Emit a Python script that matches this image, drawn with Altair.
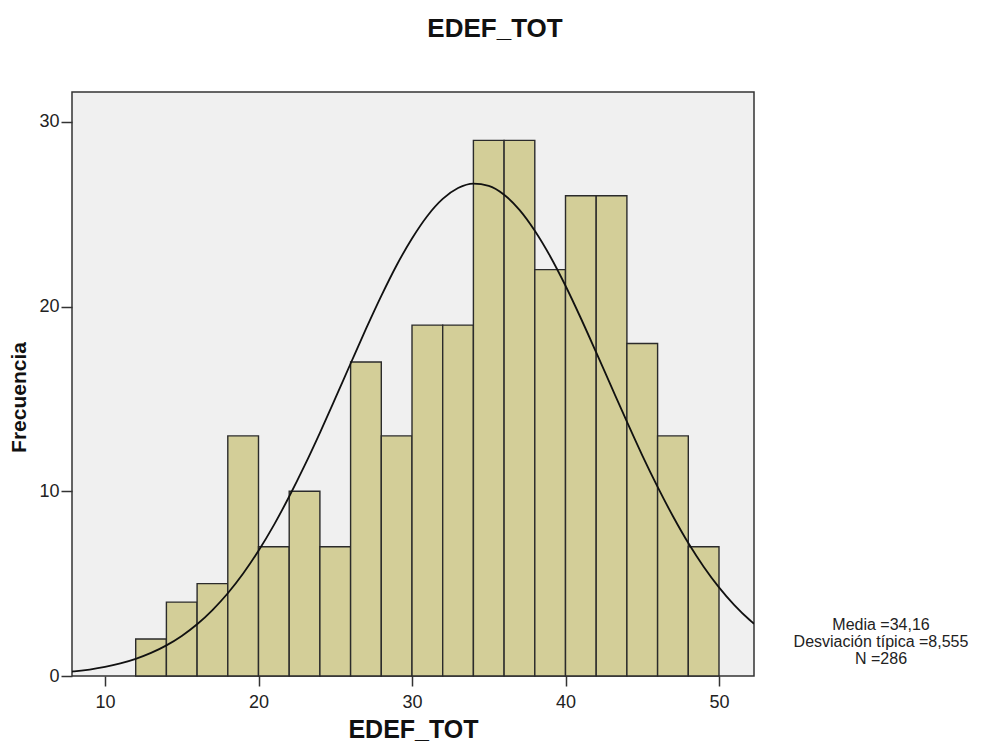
import altair as alt
import pandas as pd

# Histogram bins (EDEF_TOT) and frequencies
bin_start = [12, 14, 16, 18, 20, 22, 24, 26, 28, 30, 32, 34, 36, 38, 40, 42, 44, 46, 48]
bin_end = [14, 16, 18, 20, 22, 24, 26, 28, 30, 32, 34, 36, 38, 40, 42, 44, 46, 48, 50]
counts = [2, 4, 5, 13, 7, 10, 7, 17, 13, 19, 19, 29, 29, 22, 26, 26, 18, 13, 7]

# Normal curve points
curve_x = [7.85, 8, 9, 10, 11, 12, 13, 14, 15, 16, 17, 18, 19, 20, 21, 22, 23, 24, 25, 26,
           27, 28, 29, 30, 31, 32, 33, 34, 35, 36, 37, 38, 39, 40, 41, 42, 43, 44, 45, 46,
           47, 48, 49, 50, 51, 52, 52.28]
curve_y = [0.24, 0.25, 0.35, 0.49, 0.68, 0.93, 1.25, 1.66, 2.17, 2.80, 3.57, 4.48, 5.55, 6.78,
           8.17, 9.72, 11.39, 13.17, 15.03, 16.92, 18.79, 20.58, 22.24, 23.69, 24.91, 25.83,
           26.42, 26.66, 26.54, 26.06, 25.24, 24.11, 22.73, 21.13, 19.37, 17.52, 15.64, 13.77,
           11.95, 10.24, 8.65, 7.20, 5.92, 4.80, 3.84, 3.03, 2.83]

x_ticks = [10, 20, 30, 40, 50]
y_ticks = [0, 10, 20, 30]
x_domain = [7.85, 52.28]
y_domain = [0, 31.62]

stat_lines = ["Media =34,16", "Desviación típica =8,555", "N =286"]

FONT = "Liberation Sans"

bars_df = pd.DataFrame({"start": bin_start, "end": bin_end, "count": counts})
curve_df = pd.DataFrame({"x": curve_x, "y": curve_y})
stats_df = pd.DataFrame({"t": [stat_lines]})

xscale = alt.Scale(domain=x_domain, nice=False, zero=False)
yscale = alt.Scale(domain=y_domain, nice=False)

bars = alt.Chart(bars_df).mark_bar(
    fill="#D3CE98", stroke="#2b2b2b", strokeWidth=1.4
).encode(
    x=alt.X("start:Q", scale=xscale, title="EDEF_TOT",
            axis=alt.Axis(values=x_ticks, grid=False, domain=False, tickSize=10,
                          tickColor="#333333", tickWidth=1.5, labelFontSize=18,
                          labelFont=FONT, labelColor="#222222", labelBaseline="alphabetic",
                          labelPadding=21, titleFont=FONT, titleFontSize=25,
                          titleFontWeight="bold", titleColor="#111111",
                          titleBaseline="alphabetic", titleY=61, titleX=341)),
    x2="end:Q",
    y=alt.Y("count:Q", scale=yscale, title="Frecuencia",
            axis=alt.Axis(values=y_ticks, grid=False, domain=False, tickSize=11,
                          tickColor="#333333", tickWidth=1.5, labelFontSize=18,
                          labelFont=FONT, labelColor="#222222", labelPadding=2,
                          titleFont=FONT, titleFontSize=21, titleFontWeight="bold",
                          titleColor="#111111", titleBaseline="alphabetic",
                          titleX=-47, titleY=305)),
    y2=alt.datum(0),
)

curve = alt.Chart(curve_df).mark_line(
    color="#111111", strokeWidth=1.8, interpolate="monotone", clip=True
).encode(
    x=alt.X("x:Q", scale=xscale),
    y=alt.Y("y:Q", scale=yscale),
)

stats = alt.Chart(stats_df).mark_text(
    font=FONT, fontSize=16, align="center", baseline="alphabetic",
    lineHeight=17, color="#222222"
).encode(
    x=alt.value(809),
    y=alt.value(538),
    text="t",
)

chart = alt.layer(bars, curve, stats).properties(
    width=682,
    height=584,
    autosize=alt.AutoSizeParams(type="none"),
    padding={"left": 64, "top": 84, "right": 219, "bottom": 72},
    title=alt.Title("EDEF_TOT", anchor="middle", dx=82, offset=50,
                    fontSize=26, fontWeight="bold", font=FONT, color="#111111"),
).configure(
    background="white"
).configure_view(
    fill="#F0F0F0", stroke="#333333", strokeWidth=1.5
)

chart.save("out.html", embed_options={"renderer": "svg", "actions": False})
